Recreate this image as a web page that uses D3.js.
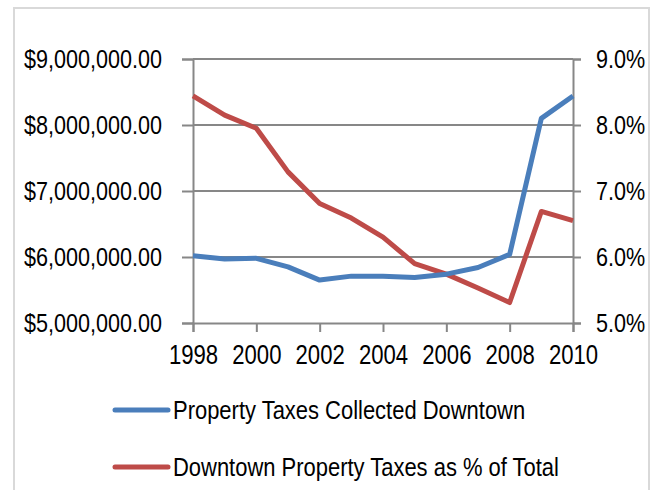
<!DOCTYPE html>
<html>
<head>
<meta charset="utf-8">
<script src="https://cdn.jsdelivr.net/npm/d3@7"></script>
<style>
  html, body { margin: 0; padding: 0; background: #fff; }
  svg { display: block; }
  text { font-family: "Liberation Sans", Arial, sans-serif; fill: #000; }
</style>
</head>
<body>
<svg id="chart" width="660" height="490"></svg>
<script>
const years = [1998,1999,2000,2001,2002,2003,2004,2005,2006,2007,2008,2009,2010];
const taxesCollected = [6020000,5970000,5980000,5850000,5650000,5710000,5710000,5690000,5740000,5840000,6040000,8100000,8440000];
const pctOfTotal = [8.44,8.15,7.95,7.29,6.81,6.59,6.30,5.90,5.74,5.53,5.31,6.69,6.55];
const leftTicks = [5000000,6000000,7000000,8000000,9000000];
const rightTicks = [5,6,7,8,9];
const xTicks = [1998,2000,2002,2004,2006,2008,2010];
const seriesNames = ["Property Taxes Collected Downtown","Downtown Property Taxes as % of Total"];
const colors = ["#4a7ebb","#be4b48"];

const svg = d3.select("#chart");
const grid = "#878787";

// outer frame
svg.append("rect").attr("x",14).attr("y",8).attr("width",635).attr("height",500)
  .attr("fill","none").attr("stroke","#d9d9d9").attr("stroke-width",2);

const x = d3.scaleLinear().domain([1998,2010]).range([193,573]);
const yL = d3.scaleLinear().domain([5000000,9000000]).range([323,59]);
const yR = d3.scaleLinear().domain([5,9]).range([323,59]);

// gridlines
svg.append("g").selectAll("line").data(leftTicks.slice(1)).join("line")
  .attr("x1",x(1998)).attr("x2",x(2010))
  .attr("y1",d=>yL(d)).attr("y2",d=>yL(d))
  .attr("stroke",grid).attr("stroke-width",2);

function styleAxis(g, fs, sx, horiz){
  g.selectAll(".domain").attr("stroke",grid).attr("stroke-width",2);
  g.selectAll(".tick line").attr("stroke",grid).attr("stroke-width",2);
  g.selectAll(".tick text").attr("font-size",fs)
    .attr("font-family","Liberation Sans, Arial, sans-serif").attr("fill","#000")
    .each(function(){
      const t = d3.select(this);
      if (horiz) { t.attr("x", (+t.attr("x"))/sx); }
      t.attr("transform",`scale(${sx},1)`);
    });
}

const fmtDollar = d => "$" + d3.format(",.2f")(d);
const gL = svg.append("g").attr("transform",`translate(${x(1998)},0)`)
  .call(d3.axisLeft(yL).tickValues(leftTicks).tickFormat(fmtDollar).tickSizeOuter(0).tickSize(11).tickPadding(20));
styleAxis(gL, 26, 0.83, true);

const gR = svg.append("g").attr("transform",`translate(${x(2010)},0)`)
  .call(d3.axisRight(yR).tickValues(rightTicks).tickFormat(d=>d3.format(".1f")(d)+"%").tickSizeOuter(0).tickSize(8).tickPadding(15));
styleAxis(gR, 26, 0.83, true);

const gX = svg.append("g").attr("transform",`translate(0,${yL(5000000)})`)
  .call(d3.axisBottom(x).tickValues(xTicks).tickFormat(d3.format("d")).tickSizeOuter(0).tickSize(9).tickPadding(13));
styleAxis(gX, 27, 0.82, false);

// lines
const lineL = d3.line().x((d,i)=>x(years[i])).y(d=>yL(d));
const lineR = d3.line().x((d,i)=>x(years[i])).y(d=>yR(d));
svg.append("path").datum(pctOfTotal).attr("d",lineR)
  .attr("fill","none").attr("stroke",colors[1]).attr("stroke-width",5).attr("stroke-linejoin","round");
svg.append("path").datum(taxesCollected).attr("d",lineL)
  .attr("fill","none").attr("stroke",colors[0]).attr("stroke-width",5).attr("stroke-linejoin","round");

// legend
const legY = [410,467];
const leg = svg.append("g");
seriesNames.forEach((name,i)=>{
  leg.append("line").attr("x1",115).attr("x2",168).attr("y1",legY[i]).attr("y2",legY[i])
    .attr("stroke",colors[i]).attr("stroke-width",5).attr("stroke-linecap","round");
  leg.append("text").attr("transform",`translate(173,${legY[i]}) scale(0.845,1)`)
    .attr("dy","0.35em").attr("font-size",26).text(name);
});
</script>
</body>
</html>
